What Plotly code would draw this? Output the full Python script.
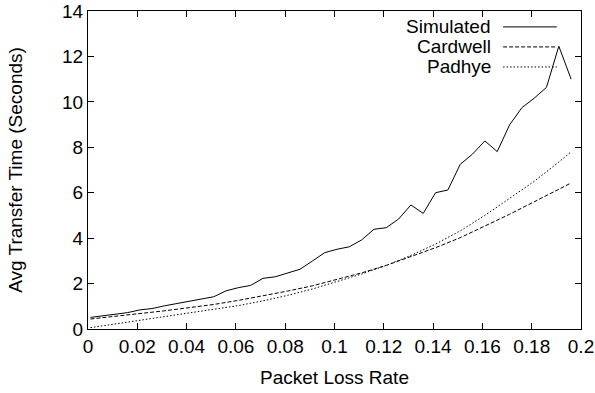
import plotly.graph_objects as go

# ---- data ----
sim_x = [0.001, 0.006, 0.011, 0.016, 0.021, 0.026, 0.031, 0.036, 0.041, 0.046,
         0.051, 0.056, 0.061, 0.066, 0.071, 0.076, 0.081, 0.086, 0.091, 0.096,
         0.101, 0.106, 0.111, 0.116, 0.121, 0.126, 0.131, 0.136, 0.141, 0.146,
         0.151, 0.156, 0.161, 0.166, 0.171, 0.176, 0.181, 0.186, 0.191, 0.196]
sim_y = [0.51, 0.57, 0.63, 0.72, 0.84, 0.90, 1.02, 1.12, 1.22, 1.31,
         1.42, 1.68, 1.82, 1.92, 2.23, 2.30, 2.48, 2.63, 2.99, 3.36,
         3.51, 3.62, 3.92, 4.39, 4.46, 4.84, 5.46, 5.09, 6.00, 6.12,
         7.25, 7.70, 8.28, 7.81, 8.98, 9.74, 10.16, 10.64, 12.45, 11.00]

model_x = [0.001, 0.011, 0.021, 0.031, 0.041, 0.051, 0.061, 0.071, 0.081, 0.091,
           0.101, 0.111, 0.121, 0.131, 0.141, 0.151, 0.161, 0.171, 0.181, 0.191, 0.196]
cardwell_y = [0.44, 0.55, 0.66, 0.80, 0.94, 1.08, 1.26, 1.46, 1.67, 1.90,
              2.17, 2.47, 2.80, 3.18, 3.58, 4.02, 4.52, 5.05, 5.60, 6.15, 6.43]
padhye_y = [0.06, 0.22, 0.37, 0.52, 0.68, 0.85, 1.03, 1.24, 1.48, 1.76,
            2.08, 2.42, 2.80, 3.24, 3.74, 4.32, 5.00, 5.75, 6.50, 7.35, 7.80]

x_ticks = [0, 0.02, 0.04, 0.06, 0.08, 0.1, 0.12, 0.14, 0.16, 0.18, 0.2]
x_tick_text = ["0", "0.02", "0.04", "0.06", "0.08", "0.1", "0.12", "0.14", "0.16", "0.18", "0.2"]
y_ticks = [0, 2, 4, 6, 8, 10, 12, 14]

series_names = ["Simulated", "Cardwell", "Padhye"]
series_dash = ["solid", "4px,2px", "1.5px,2px"]

FONT = "Liberation Sans, Arial, Helvetica, sans-serif"
FS = 19

fig = go.Figure()
fig.add_trace(go.Scatter(x=sim_x, y=sim_y, mode="lines", name=series_names[0],
                         line=dict(color="black", width=1, dash=series_dash[0])))
fig.add_trace(go.Scatter(x=model_x, y=cardwell_y, mode="lines", name=series_names[1],
                         line=dict(color="black", width=1, dash=series_dash[1])))
fig.add_trace(go.Scatter(x=model_x, y=padhye_y, mode="lines", name=series_names[2],
                         line=dict(color="black", width=1, dash=series_dash[2])))

# gnuplot-style legend: text on left, line sample on right
for i, (nm, ds) in enumerate(zip(series_names, series_dash)):
    ypos = 0.950 - i * 0.063
    fig.add_annotation(xref="paper", yref="paper", x=0.822, y=ypos, text=nm,
                       showarrow=False, xanchor="right", yanchor="middle",
                       font=dict(family=FONT, size=FS, color="black"))
    fig.add_shape(type="line", xref="paper", yref="paper", x0=0.842, x1=0.951,
                  y0=ypos, y1=ypos, line=dict(color="black", width=1, dash=ds))

fig.update_layout(
    width=595, height=393,
    margin=dict(l=88, r=14, t=11, b=64, autoexpand=False),
    paper_bgcolor="white", plot_bgcolor="white",
    showlegend=False,
    font=dict(family=FONT, size=FS, color="black"),
)
fig.update_xaxes(range=[0, 0.2], tickvals=x_ticks, ticktext=x_tick_text,
                 ticks="inside", ticklen=6, tickcolor="black", tickwidth=1,
                 showline=True, linecolor="black", linewidth=1, mirror="ticks",
                 showgrid=False, zeroline=False, automargin=False,
                 title=dict(text="Packet Loss Rate", standoff=14,
                            font=dict(family=FONT, size=FS, color="black")),
                 tickfont=dict(family=FONT, size=FS))
fig.update_yaxes(range=[0, 14], tickvals=y_ticks,
                 ticks="inside", ticklen=6, tickcolor="black", tickwidth=1,
                 showline=True, linecolor="black", linewidth=1, mirror="ticks",
                 showgrid=False, zeroline=False, automargin=False,
                 title=dict(text="Avg Transfer Time (Seconds)", standoff=34,
                            font=dict(family=FONT, size=FS, color="black")),
                 tickfont=dict(family=FONT, size=FS))

fig.write_html("out.html")
